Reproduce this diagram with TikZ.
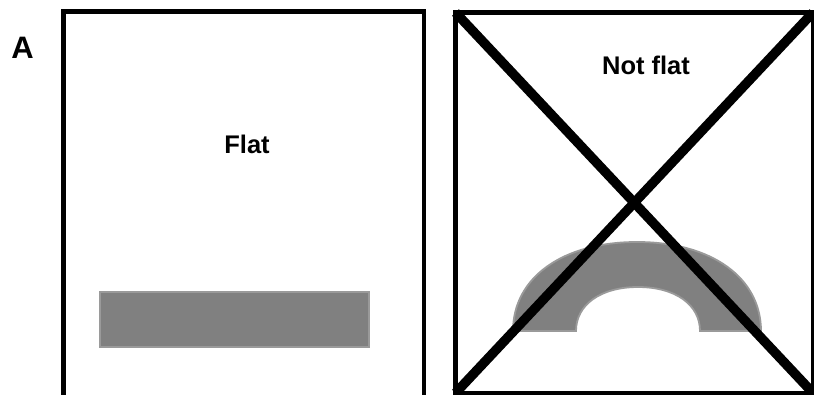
\documentclass[tikz,border=0pt]{standalone}
\usepackage{fontspec}
\setmainfont{Liberation Sans}
\definecolor{shapegray}{HTML}{808080}
\definecolor{edgegray}{HTML}{9A9A9A}
\tikzset{
  frame/.style={draw=black,line width=4.8pt,line join=miter},
  crossline/.style={draw=black,line width=9.5pt,line cap=butt},
  grayshape/.style={fill=shapegray,draw=edgegray,line width=1.8pt},
  label/.style={inner sep=0pt,font=\fontsize{25.5}{30}\selectfont\bfseries}
}
\begin{document}
\begin{tikzpicture}[x=1pt,y=-1pt]
\useasboundingbox (0,0) rectangle (814,394);
\clip (0,0) rectangle (814,394);
% left panel
\draw[frame] (63.5,420) -- (63.5,11.5) -- (424,11.5) -- (424,420);
\node[label] (flat) at (247,144.5) {Flat};
\draw[grayshape] (100,292) rectangle (369,347);
% right panel
\coordinate (tl) at (455.5,12.5);
\coordinate (tr) at (813,12.5);
\coordinate (br) at (813,393);
\coordinate (bl) at (455.5,393);
\draw[frame] (tl) -- (tr) -- (br) -- (bl) -- cycle;
\node[label] (notflat) at (646,65.5) {Not flat};
\draw[grayshape] (513,331) .. controls (513,277.6) and (562.6,242) .. (637,242)
  .. controls (711.4,242) and (761,277.6) .. (761,331) -- (700,331)
  .. controls (700,304.6) and (675.2,287) .. (638,287)
  .. controls (600.8,287) and (576,304.6) .. (576,331) -- cycle;
\draw[crossline] (tl) -- (br);
\draw[crossline] (bl) -- (tr);
% panel letter
\node[inner sep=0pt,font=\fontsize{31}{36}\selectfont\bfseries] (A) at (22.5,48) {A};
\end{tikzpicture}
\end{document}
